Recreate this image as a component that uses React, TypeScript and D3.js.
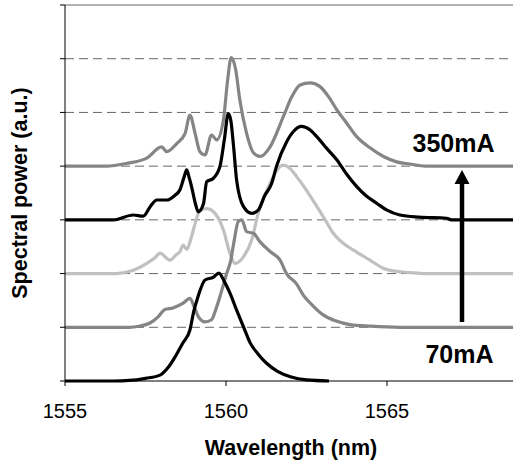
import React, { useEffect, useRef } from "react";
import * as d3 from "d3";

// wavelength (nm) / spectral power (a.u.), each trace already shifted by its offset
const trace70: [number, number][] = [
  [1555, 0], [1556.5, 0], [1557.0, 0.01], [1557.5, 0.05], [1557.95, 0.11], [1558.2, 0.25],
  [1558.42, 0.45], [1558.65, 0.7], [1558.88, 0.95], [1559.0, 1.3], [1559.13, 1.57],
  [1559.35, 1.88], [1559.6, 1.93], [1559.78, 2.01], [1559.95, 1.85], [1560.12, 1.64],
  [1560.33, 1.32], [1560.55, 1.0], [1560.75, 0.71], [1561.0, 0.5], [1561.26, 0.33],
  [1561.6, 0.18], [1562.0, 0.08], [1562.5, 0.02], [1563.2, 0],
];

const trace2: [number, number][] = [
  [1555, 1], [1557.0, 1.0], [1557.3, 1.02], [1557.64, 1.08], [1557.9, 1.2], [1558.1, 1.33],
  [1558.35, 1.36], [1558.67, 1.45], [1558.88, 1.54], [1559.0, 1.4], [1559.14, 1.2],
  [1559.35, 1.1], [1559.55, 1.14], [1559.71, 1.38], [1559.87, 1.69], [1560.02, 2.0],
  [1560.15, 2.25], [1560.25, 2.6], [1560.38, 2.97], [1560.49, 3.0], [1560.64, 2.78],
  [1560.85, 2.75], [1561.06, 2.59], [1561.37, 2.41], [1561.68, 2.25], [1561.88, 2.0],
  [1562.2, 1.8], [1562.4, 1.6], [1562.7, 1.4], [1563.02, 1.23], [1563.4, 1.12],
  [1563.85, 1.05], [1564.5, 1.02], [1565.4, 1.0], [1569.5, 1.0],
];

const trace3: [number, number][] = [
  [1555, 2], [1556.6, 2.0], [1557.12, 2.06], [1557.54, 2.19], [1557.8, 2.3], [1557.95, 2.38],
  [1558.26, 2.25], [1558.45, 2.35], [1558.57, 2.41], [1558.67, 2.53], [1558.78, 2.45],
  [1558.93, 2.69], [1559.05, 2.95], [1559.19, 3.18], [1559.4, 3.21], [1559.66, 3.12],
  [1559.92, 2.81], [1560.12, 2.38], [1560.28, 2.19], [1560.54, 2.31], [1560.8, 2.63],
  [1561.0, 3.12], [1561.2, 3.45], [1561.37, 3.68], [1561.55, 3.9], [1561.78, 4.02],
  [1562.0, 3.95], [1562.2, 3.8], [1562.5, 3.55], [1562.82, 3.25], [1563.1, 2.98],
  [1563.33, 2.75], [1563.65, 2.56], [1563.95, 2.44], [1564.47, 2.25], [1564.88, 2.1],
  [1565.3, 2.04], [1565.7, 2.02], [1566.2, 2.0], [1569.5, 2.0],
];

const trace4: [number, number][] = [
  [1555, 3], [1556.5, 3.0], [1557.12, 3.09], [1557.43, 3.07], [1557.65, 3.25], [1557.85, 3.37],
  [1558.16, 3.37], [1558.4, 3.45], [1558.57, 3.56], [1558.7, 3.8], [1558.78, 3.93],
  [1558.85, 3.8], [1558.93, 3.62], [1559.05, 3.3], [1559.14, 3.15], [1559.3, 3.3],
  [1559.4, 3.71], [1559.6, 3.77], [1559.81, 3.99], [1559.95, 4.5], [1560.07, 4.98],
  [1560.15, 4.85], [1560.23, 4.4], [1560.33, 3.74], [1560.54, 3.25], [1560.8, 3.12],
  [1561.0, 3.18], [1561.2, 3.45], [1561.42, 3.68], [1561.57, 4.0], [1561.88, 4.45],
  [1562.1, 4.65], [1562.35, 4.74], [1562.6, 4.68], [1562.82, 4.55], [1563.1, 4.35],
  [1563.44, 4.12], [1563.75, 3.85], [1564.06, 3.62], [1564.35, 3.45], [1564.68, 3.31],
  [1565.0, 3.18], [1565.4, 3.09], [1566.0, 3.05], [1566.85, 3.03], [1567.0, 3.0], [1569.5, 3.0],
];

const trace350: [number, number][] = [
  [1555, 4], [1556.3, 4.0], [1556.9, 4.05], [1557.54, 4.15], [1558.0, 4.36], [1558.16, 4.27],
  [1558.47, 4.42], [1558.73, 4.61], [1558.88, 4.95], [1559.04, 4.61], [1559.19, 4.27],
  [1559.35, 4.21], [1559.55, 4.58], [1559.71, 4.49], [1559.92, 4.86], [1560.05, 5.6],
  [1560.16, 6.02], [1560.3, 5.8], [1560.43, 5.23], [1560.64, 4.61], [1560.85, 4.25],
  [1561.06, 4.18], [1561.37, 4.36], [1561.78, 4.92], [1562.05, 5.3], [1562.3, 5.51],
  [1562.61, 5.55], [1562.92, 5.48], [1563.2, 5.28], [1563.44, 5.05], [1563.75, 4.8],
  [1564.06, 4.55], [1564.45, 4.35], [1564.89, 4.18], [1565.3, 4.08], [1565.7, 4.04],
  [1566.2, 4.0], [1569.5, 4.0],
];

const xTicks = [1555, 1560, 1565];
const yLevels = [0, 1, 2, 3, 4, 5, 6, 7];

const App = () => {
  const svgRef = useRef<SVGSVGElement>(null);

  useEffect(() => {
    const width = 513;
    const height = 461;
    const svg = d3.select(svgRef.current).attr("width", width).attr("height", height);
    svg.selectAll("*").remove();

    const x = d3.scaleLinear().domain([1555, 1565]).range([65, 387]);
    const y = d3.scaleLinear().domain([0, 7]).range([381, 5]);
    const font = "Arial, 'Liberation Sans', sans-serif";

    // gridlines
    svg.selectAll(".grid")
      .data(yLevels.filter((d) => d > 0))
      .join("line")
      .attr("x1", x(1555))
      .attr("x2", width)
      .attr("y1", (d) => y(d))
      .attr("y2", (d) => y(d))
      .attr("stroke", "#666")
      .attr("stroke-width", 1)
      .attr("stroke-dasharray", (d) => (d === 7 ? null : "9,5"));

    // y ticks
    svg.selectAll(".ytick")
      .data(yLevels)
      .join("line")
      .attr("x1", x(1555) - 5)
      .attr("x2", x(1555))
      .attr("y1", (d) => y(d))
      .attr("y2", (d) => y(d))
      .attr("stroke", "#000");

    const line = d3.line<[number, number]>()
      .x((d) => x(d[0]))
      .y((d) => y(d[1]))
      .curve(d3.curveMonotoneX);

    const traces = [
      { data: trace350, color: "#858585" },
      { data: trace3, color: "#c0c0c0" },
      { data: trace2, color: "#858585" },
      { data: trace4, color: "#000" },
      { data: trace70, color: "#000" },
    ];

    svg.selectAll(".trace")
      .data(traces)
      .join("path")
      .attr("d", (d) => line(d.data))
      .attr("fill", "none")
      .attr("stroke", (d) => d.color)
      .attr("stroke-width", 3.2)
      .attr("stroke-linejoin", "round");

    // axes
    svg.append("line")
      .attr("x1", x(1555)).attr("x2", x(1555))
      .attr("y1", y(7)).attr("y2", y(0))
      .attr("stroke", "#000");
    svg.append("line")
      .attr("x1", x(1555)).attr("x2", width)
      .attr("y1", y(0)).attr("y2", y(0))
      .attr("stroke", "#000");

    svg.selectAll(".xtick")
      .data(xTicks)
      .join("line")
      .attr("x1", (d) => x(d)).attr("x2", (d) => x(d))
      .attr("y1", y(0)).attr("y2", y(0) + 5)
      .attr("stroke", "#000");

    svg.selectAll(".xlabel")
      .data(xTicks)
      .join("text")
      .attr("x", (d) => x(d))
      .attr("y", 418)
      .attr("text-anchor", "middle")
      .style("font-family", font)
      .style("font-size", "20px")
      .text((d) => d);

    svg.append("text")
      .attr("x", 291)
      .attr("y", 455)
      .attr("text-anchor", "middle")
      .style("font-family", font)
      .style("font-size", "21.5px")
      .style("font-weight", "bold")
      .text("Wavelength (nm)");

    svg.append("text")
      .attr("transform", `translate(27,${(y(0) + y(7)) / 2}) rotate(-90)`)
      .attr("text-anchor", "middle")
      .style("font-family", font)
      .style("font-size", "21.5px")
      .style("font-weight", "bold")
      .text("Spectral power (a.u.)");

    // current annotations
    const ax = 462;
    svg.append("line")
      .attr("x1", ax).attr("x2", ax)
      .attr("y1", 322).attr("y2", 180)
      .attr("stroke", "#000")
      .attr("stroke-width", 4.5);
    svg.append("path")
      .attr("d", `M${ax},170 L${ax - 7.5},184 L${ax + 7.5},184 Z`)
      .attr("fill", "#000");

    svg.append("text")
      .attr("x", 453.5)
      .attr("y", 152)
      .attr("text-anchor", "middle")
      .style("font-family", font)
      .style("font-size", "25px")
      .style("font-weight", "bold")
      .text("350mA");
    svg.append("text")
      .attr("x", 459.5)
      .attr("y", 363)
      .attr("text-anchor", "middle")
      .style("font-family", font)
      .style("font-size", "25px")
      .style("font-weight", "bold")
      .text("70mA");
  }, []);

  return (
    <div style={{ position: "absolute", left: 0, top: 0, background: "#fff" }}>
      <svg ref={svgRef} style={{ display: "block" }}></svg>
    </div>
  );
};

export default App;
